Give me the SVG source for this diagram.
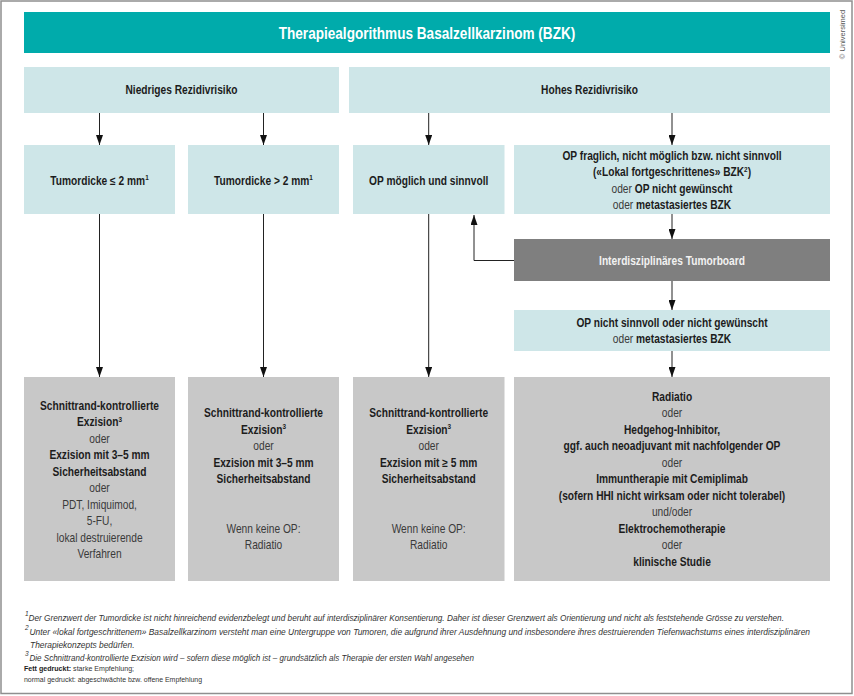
<svg xmlns="http://www.w3.org/2000/svg" width="854" height="696" viewBox="0 0 854 696">
<defs>
<style>
text{font-family:"Liberation Sans",Arial,sans-serif;fill:#1c1c1c;text-anchor:middle}
.b{font-weight:bold}
.r{font-weight:normal;fill:#3a3a3a}
.t12{font-size:12px}
.sup{font-size:7.5px}
.teal{fill:#00abab}
.light{fill:#cee6e8}
.gray{fill:#c8c8c8}
.dark{fill:#7f7f7f}
.conn{stroke:#222;stroke-width:1;fill:none}
.fn{font-size:9px;font-style:italic;fill:#333;text-anchor:start}
.fs{font-size:7px;fill:#333;text-anchor:start}
</style>
<marker id="ah" viewBox="0 0 10 7" refX="10" refY="3.5" markerWidth="10" markerHeight="7" markerUnits="userSpaceOnUse" orient="auto">
<path d="M0,0 L10,3.5 L0,7 z" fill="#111"/>
</marker>
</defs>
<rect x="0" y="0" width="854" height="696" fill="#fff"/>
<rect x="1" y="1" width="851" height="692.5" fill="none" stroke="#8f8f8f" stroke-width="1.5"/>

<g id="title">
<rect class="teal" x="24" y="12" width="806" height="41"/>
<text class="b" style="fill:#fff;font-size:16px" transform="translate(427,38.5) scale(0.85,1)" x="0" y="0">Therapiealgorithmus Basalzellkarzinom (BZK)</text>
</g>
<text style="font-size:7.5px;fill:#555" transform="translate(845,34.5) rotate(-90)">© Universimed</text>

<g id="n-low">
<rect class="light" x="24" y="67" width="315" height="46"/>
<text class="b t12" transform="translate(181.5,94) scale(0.85,1)">Niedriges Rezidivrisiko</text>
</g>
<g id="n-high">
<rect class="light" x="349" y="67" width="481" height="46"/>
<text class="b t12" transform="translate(589.5,94) scale(0.85,1)">Hohes Rezidivrisiko</text>
</g>

<g id="n-thin">
<rect class="light" x="24" y="145" width="151" height="69"/>
<text class="b t12" transform="translate(99.5,184.5) scale(0.85,1)">Tumordicke ≤ 2 mm<tspan class="sup" dy="-4.5">1</tspan></text>
</g>
<g id="n-thick">
<rect class="light" x="188" y="145" width="151" height="69"/>
<text class="b t12" transform="translate(263.5,184.5) scale(0.85,1)">Tumordicke &gt; 2 mm<tspan class="sup" dy="-4.5">1</tspan></text>
</g>
<g id="n-op">
<rect class="light" x="353" y="145" width="151.5" height="69"/>
<text class="b t12" transform="translate(428.7,184.5) scale(0.85,1)">OP möglich und sinnvoll</text>
</g>
<g id="n-opq">
<rect class="light" x="514" y="145" width="316" height="69"/>
<g transform="translate(672,0) scale(0.85,1)">
<text class="b t12" x="0" y="160">OP fraglich, nicht möglich bzw. nicht sinnvoll</text>
<text class="b t12" x="0" y="176.5">(«Lokal fortgeschrittenes» BZK<tspan class="sup" dy="-4.5">2</tspan><tspan dy="4.5">)</tspan></text>
<text class="t12" x="0" y="193"><tspan class="r">oder </tspan><tspan class="b">OP nicht gewünscht</tspan></text>
<text class="t12" x="0" y="209.5"><tspan class="r">oder </tspan><tspan class="b">metastasiertes BZK</tspan></text>
</g>
</g>

<g id="n-board">
<rect class="dark" x="514" y="239" width="316" height="42"/>
<text class="b t12" style="fill:#f2f2f2" transform="translate(672,264.5) scale(0.85,1)">Interdisziplinäres Tumorboard</text>
</g>

<g id="n-notop">
<rect class="light" x="514" y="310" width="316" height="41"/>
<g transform="translate(672,0) scale(0.85,1)">
<text class="b t12" x="0" y="327">OP nicht sinnvoll oder nicht gewünscht</text>
<text class="t12" x="0" y="343.5"><tspan class="r">oder </tspan><tspan class="b">metastasiertes BZK</tspan></text>
</g>
</g>

<g id="n-t1">
<rect class="gray" x="24" y="377" width="151" height="204"/>
<g transform="translate(99.5,0) scale(0.85,1)">
<text class="b t12" x="0" y="410">Schnittrand-kontrollierte</text>
<text class="b t12" x="0" y="426.5">Exzision<tspan class="sup" dy="-4.5">3</tspan></text>
<text class="r t12" x="0" y="443">oder</text>
<text class="b t12" x="0" y="459.5">Exzision mit 3–5 mm</text>
<text class="b t12" x="0" y="476">Sicherheitsabstand</text>
<text class="r t12" x="0" y="492.5">oder</text>
<text class="r t12" x="0" y="509">PDT, Imiquimod,</text>
<text class="r t12" x="0" y="525.5">5-FU,</text>
<text class="r t12" x="0" y="542">lokal destruierende</text>
<text class="r t12" x="0" y="558.5">Verfahren</text>
</g>
</g>

<g id="n-t2">
<rect class="gray" x="188" y="377" width="151" height="204"/>
<g transform="translate(263.5,0) scale(0.85,1)">
<text class="b t12" x="0" y="417.5">Schnittrand-kontrollierte</text>
<text class="b t12" x="0" y="434">Exzision<tspan class="sup" dy="-4.5">3</tspan></text>
<text class="r t12" x="0" y="450.5">oder</text>
<text class="b t12" x="0" y="467">Exzision mit 3–5 mm</text>
<text class="b t12" x="0" y="483.5">Sicherheitsabstand</text>
<text class="r t12" x="0" y="533">Wenn keine OP:</text>
<text class="r t12" x="0" y="549.5">Radiatio</text>
</g>
</g>

<g id="n-t3">
<rect class="gray" x="353" y="377" width="151.5" height="204"/>
<g transform="translate(428.7,0) scale(0.85,1)">
<text class="b t12" x="0" y="417.5">Schnittrand-kontrollierte</text>
<text class="b t12" x="0" y="434">Exzision<tspan class="sup" dy="-4.5">3</tspan></text>
<text class="r t12" x="0" y="450.5">oder</text>
<text class="b t12" x="0" y="467">Exzision mit ≥ 5 mm</text>
<text class="b t12" x="0" y="483.5">Sicherheitsabstand</text>
<text class="r t12" x="0" y="533">Wenn keine OP:</text>
<text class="r t12" x="0" y="549.5">Radiatio</text>
</g>
</g>

<g id="n-t4">
<rect class="gray" x="514" y="377" width="316" height="204"/>
<g transform="translate(672,0) scale(0.85,1)">
<text class="b t12" x="0" y="401">Radiatio</text>
<text class="r t12" x="0" y="417.5">oder</text>
<text class="b t12" x="0" y="434">Hedgehog-Inhibitor,</text>
<text class="b t12" x="0" y="450.5">ggf. auch neoadjuvant mit nachfolgender OP</text>
<text class="r t12" x="0" y="467">oder</text>
<text class="b t12" x="0" y="483.5">Immuntherapie mit Cemiplimab</text>
<text class="b t12" x="0" y="500">(sofern HHI nicht wirksam oder nicht tolerabel)</text>
<text class="r t12" x="0" y="516.5">und/oder</text>
<text class="b t12" x="0" y="533">Elektrochemotherapie</text>
<text class="r t12" x="0" y="549.5">oder</text>
<text class="b t12" x="0" y="566">klinische Studie</text>
</g>
</g>

<g id="connectors">
<path class="conn" d="M99.5,113 V145" marker-end="url(#ah)"/>
<path class="conn" d="M263.5,113 V145" marker-end="url(#ah)"/>
<path class="conn" d="M428.7,113 V145" marker-end="url(#ah)"/>
<path class="conn" d="M672,113 V145" marker-end="url(#ah)"/>
<path class="conn" d="M99.5,214 V377" marker-end="url(#ah)"/>
<path class="conn" d="M263.5,214 V377" marker-end="url(#ah)"/>
<path class="conn" d="M428.7,214 V377" marker-end="url(#ah)"/>
<path class="conn" d="M672,214 V239" marker-end="url(#ah)"/>
<path class="conn" d="M514,260.5 H474 V215" marker-end="url(#ah)"/>
<path class="conn" d="M672,281 V310" marker-end="url(#ah)"/>
<path class="conn" d="M672,351 V377" marker-end="url(#ah)"/>
</g>

<g id="footnotes">
<text class="fn" style="font-size:6.5px" x="25" y="616">1</text>
<text class="fn" transform="translate(28.5,620.5) scale(0.84,1)" textLength="899.4" lengthAdjust="spacingAndGlyphs">Der Grenzwert der Tumordicke ist nicht hinreichend evidenzbelegt und beruht auf interdisziplinärer Konsentierung. Daher ist dieser Grenzwert als Orientierung und nicht als feststehende Grösse zu verstehen.</text>
<text class="fn" style="font-size:6.5px" x="25" y="630">2</text>
<text class="fn" transform="translate(29.5,634.5) scale(0.84,1)" textLength="929.2" lengthAdjust="spacingAndGlyphs">Unter «lokal fortgeschrittenem» Basalzellkarzinom versteht man eine Untergruppe von Tumoren, die aufgrund ihrer Ausdehnung und insbesondere ihres destruierenden Tiefenwachstums eines interdisziplinären</text>
<text class="fn" transform="translate(30,647.5) scale(0.84,1)" textLength="124.4" lengthAdjust="spacingAndGlyphs">Therapiekonzepts bedürfen.</text>
<text class="fn" style="font-size:6.5px" x="25" y="656">3</text>
<text class="fn" transform="translate(29.5,660.5) scale(0.84,1)" textLength="529.2" lengthAdjust="spacingAndGlyphs">Die Schnittrand-kontrollierte Exzision wird – sofern diese möglich ist – grundsätzlich als Therapie der ersten Wahl angesehen</text>
<text class="fs" transform="translate(24,671) scale(0.84,1)" textLength="131" lengthAdjust="spacingAndGlyphs"><tspan font-weight="bold" fill="#1c1c1c">Fett gedruckt:</tspan> starke Empfehlung;</text>
<text class="fs" transform="translate(24,681.5) scale(0.84,1)" textLength="212" lengthAdjust="spacingAndGlyphs">normal gedruckt: abgeschwächte bzw. offene Empfehlung</text>
</g>
</svg>
